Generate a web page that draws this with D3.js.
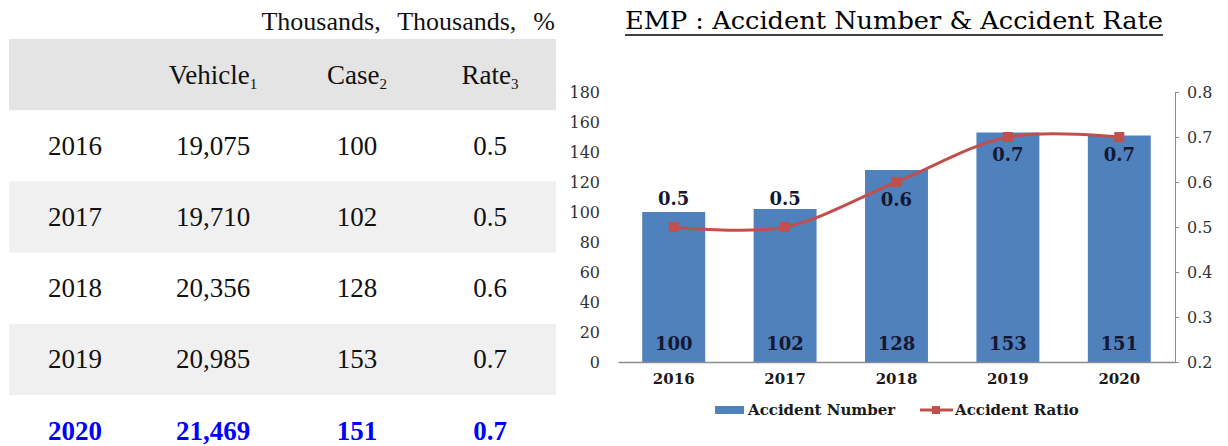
<!DOCTYPE html>
<html>
<head>
<meta charset="utf-8">
<script src="https://cdn.jsdelivr.net/npm/d3@7"></script>
<style>
  body { margin: 0; background: #fff; }
  svg { display: block; }
  .tbl { font-family: "Liberation Serif", serif; fill: #111; }
  .cht { font-family: "DejaVu Serif", serif; }
</style>
</head>
<body>
<div id="vis"></div>
<script>
// table data
const years = ["2016", "2017", "2018", "2019", "2020"];
const vehicles = [19075, 19710, 20356, 20985, 21469];
const cases = [100, 102, 128, 153, 151];
const rates = [0.5, 0.5, 0.6, 0.7, 0.7];
const headers = ["", "Vehicle", "Case", "Rate"];
const headerSubs = ["", "1", "2", "3"];
const unitNote = "Thousands,  Thousands,  %";

// chart data
const chartTitle = "EMP : Accident Number & Accident Rate";
const leftTicks = [0, 20, 40, 60, 80, 100, 120, 140, 160, 180];
const rightTicks = [0.2, 0.3, 0.4, 0.5, 0.6, 0.7, 0.8];
const rateLabelSide = ["above", "above", "below", "below", "below"];
const legendNames = ["Accident Number", "Accident Ratio"];

const width = 1228, height = 446;
const barColor = "#4f81bd", lineColor = "#c0504d";

const svg = d3.select("#vis").append("svg")
    .attr("width", width)
    .attr("height", height);

svg.append("rect").attr("width", width).attr("height", height).attr("fill", "#fff");

// ---------- table ----------
let rows = years.map((y, i) => ({year: y, vehicle: vehicles[i], cases: cases[i], rate: rates[i]}));

let rowY = d3.scaleBand().domain(["head"].concat(years)).range([39, 39 + 6 * 71.2]);
let colX = d3.scaleOrdinal().domain([0, 1, 2, 3]).range([75, 213, 357, 490]);
let fmt = d3.format(",");

let tbl = svg.append("g").attr("class", "tbl");

tbl.append("text")
    .attr("x", 555).attr("y", 30)
    .attr("text-anchor", "end")
    .attr("font-size", 26)
    .attr("word-spacing", 2)
    .style("white-space", "pre")
    .text(unitNote);

tbl.append("rect")
    .attr("x", 9).attr("width", 547)
    .attr("y", rowY("head")).attr("height", rowY.bandwidth())
    .attr("fill", "#e4e4e4");

tbl.selectAll(".stripe")
    .data(rows.filter((d, i) => i % 2 == 1))
    .enter().append("rect")
    .attr("class", "stripe")
    .attr("x", 9).attr("width", 547)
    .attr("y", d => rowY(d.year)).attr("height", rowY.bandwidth())
    .attr("fill", "#f0f0f0");

let head = tbl.selectAll(".head")
    .data(headers)
    .enter().append("text")
    .attr("class", "head")
    .attr("x", (d, i) => colX(i))
    .attr("y", rowY("head") + rowY.bandwidth() / 2 + 9)
    .attr("text-anchor", "middle")
    .attr("font-size", 27);
head.append("tspan").text(d => d);
head.append("tspan")
    .attr("font-size", 15)
    .attr("dy", 5)
    .text((d, i) => headerSubs[i]);

rows.forEach((r, i) => {
    let last = i == rows.length - 1;
    let vals = [r.year, fmt(r.vehicle), r.cases, r.rate.toFixed(1)];
    tbl.selectAll(".cell" + i)
        .data(vals)
        .enter().append("text")
        .attr("x", (d, j) => colX(j))
        .attr("y", rowY(r.year) + rowY.bandwidth() / 2 + 9)
        .attr("text-anchor", "middle")
        .attr("font-size", 27)
        .attr("font-weight", last ? "bold" : "normal")
        .attr("fill", last ? "#0000ff" : "#111")
        .text(d => d);
});

// ---------- chart ----------
let cht = svg.append("g").attr("class", "cht");

cht.append("text")
    .attr("x", 625).attr("y", 29)
    .attr("font-size", 24)
    .attr("textLength", 538)
    .attr("lengthAdjust", "spacingAndGlyphs")
    .attr("fill", "#000")
    .text(chartTitle);
cht.append("line")
    .attr("x1", 625).attr("x2", 1163)
    .attr("y1", 35).attr("y2", 35)
    .attr("stroke", "#000").attr("stroke-width", 1.5);

let x = d3.scaleBand().domain(years).range([618, 1175]).paddingInner(0.435).paddingOuter(0.2175);
let yL = d3.scaleLinear().domain([0, 180]).range([362, 92]);
let yR = d3.scaleLinear().domain([0.2, 0.8]).range([362, 92]);

// left axis: labels only
let axL = cht.append("g")
    .attr("transform", "translate(604,0)")
    .call(d3.axisLeft(yL).tickValues(leftTicks).tickSize(0).tickPadding(4));
axL.select(".domain").remove();
axL.selectAll("text")
    .attr("font-family", "DejaVu Serif")
    .attr("font-size", 16)
    .attr("fill", "#333");

// right axis
let axR = cht.append("g")
    .attr("transform", "translate(1175,0)")
    .call(d3.axisRight(yR).tickValues(rightTicks).tickFormat(d3.format(".1f")).tickSizeInner(4).tickSizeOuter(0).tickPadding(8));
axR.select(".domain").attr("stroke", "#8c8c8c");
axR.selectAll(".tick line").attr("stroke", "#8c8c8c");
axR.selectAll("text")
    .attr("font-family", "DejaVu Serif")
    .attr("font-size", 16)
    .attr("fill", "#333");

// bars
cht.selectAll(".bar")
    .data(rows)
    .enter().append("rect")
    .attr("class", "bar")
    .attr("x", d => x(d.year))
    .attr("width", x.bandwidth())
    .attr("y", d => yL(d.cases))
    .attr("height", d => yL(0) - yL(d.cases))
    .attr("fill", barColor);

// x axis
let axB = cht.append("g")
    .attr("transform", "translate(0,362)")
    .call(d3.axisBottom(x).tickSize(0).tickPadding(11));
axB.select(".domain").attr("stroke", "#8c8c8c").attr("stroke-width", 1.5);
axB.selectAll("text")
    .attr("font-family", "DejaVu Serif")
    .attr("font-size", 15)
    .attr("font-weight", "bold")
    .attr("fill", "#1a1a1a");

// case labels inside bars
cht.selectAll(".caseLbl")
    .data(rows)
    .enter().append("text")
    .attr("class", "caseLbl")
    .attr("x", d => x(d.year) + x.bandwidth() / 2)
    .attr("y", yL(0) - 12)
    .attr("text-anchor", "middle")
    .attr("font-size", 18)
    .attr("font-weight", "bold")
    .attr("fill", "#141832")
    .text(d => d.cases);

// rate line
let line = d3.line()
    .x(d => x(d.year) + x.bandwidth() / 2)
    .y(d => yR(d.rate))
    .curve(d3.curveCardinal.tension(0));

cht.append("path")
    .datum(rows)
    .attr("d", line)
    .attr("fill", "none")
    .attr("stroke", lineColor)
    .attr("stroke-width", 3);

cht.selectAll(".mk")
    .data(rows)
    .enter().append("rect")
    .attr("class", "mk")
    .attr("x", d => x(d.year) + x.bandwidth() / 2 - 5)
    .attr("y", d => yR(d.rate) - 5)
    .attr("width", 10).attr("height", 10)
    .attr("fill", lineColor);

cht.selectAll(".rateLbl")
    .data(rows)
    .enter().append("text")
    .attr("class", "rateLbl")
    .attr("x", d => x(d.year) + x.bandwidth() / 2)
    .attr("y", (d, i) => yR(d.rate) + (rateLabelSide[i] == "above" ? -22 : 24))
    .attr("text-anchor", "middle")
    .attr("font-size", 18)
    .attr("font-weight", "bold")
    .attr("fill", "#141832")
    .text(d => d.rate.toFixed(1));

// legend
let lg = cht.append("g").attr("font-size", 15).attr("font-weight", "bold").attr("fill", "#1a1a1a");
lg.append("rect").attr("x", 715).attr("y", 406).attr("width", 29).attr("height", 8).attr("fill", barColor);
lg.append("text").attr("x", 748).attr("y", 415).text(legendNames[0]);
lg.append("line").attr("x1", 920).attr("x2", 953).attr("y1", 410).attr("y2", 410)
    .attr("stroke", lineColor).attr("stroke-width", 3);
lg.append("rect").attr("x", 932).attr("y", 406).attr("width", 8).attr("height", 8).attr("fill", lineColor);
lg.append("text").attr("x", 955).attr("y", 415).text(legendNames[1]);
</script>
</body>
</html>
